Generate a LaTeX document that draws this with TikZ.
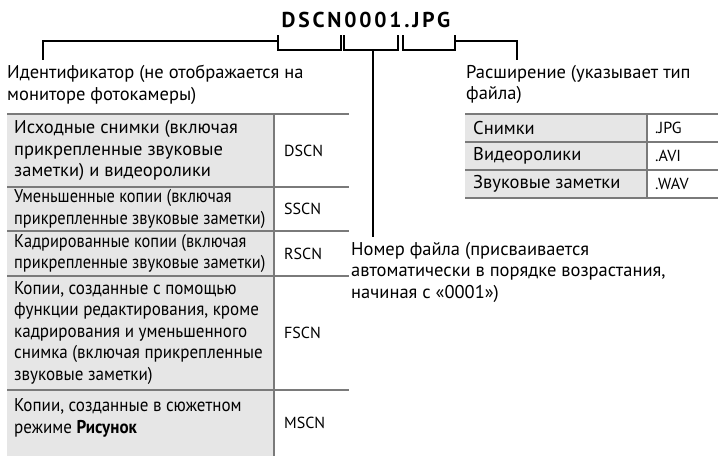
\documentclass[tikz,border=0pt]{standalone}
\usepackage{fontspec}
\setmainfont{PT Sans}
\usetikzlibrary{positioning}
\definecolor{rulegray}{HTML}{7A7A7A}
\definecolor{cellgray}{HTML}{E6E6E6}

\begin{document}
\begin{tikzpicture}[x=1pt, y=-1pt,
    font=\fontsize{18.5}{21.5}\selectfont,
    lbl/.style={anchor=north west, align=left, inner sep=0pt},
    cell/.style={anchor=west, align=left, inner sep=0pt},
    squeezed/.style={cell, font=\fontsize{18.5}{21.5}\selectfont\addfontfeature{FakeStretch=0.92}},
    tight/.style={cell, font=\fontsize{18.5}{21.5}\selectfont\addfontfeature{FakeStretch=0.885}},
    code/.style={cell, font=\fontsize{16}{20}\selectfont},
    wire/.style={line width=1.6pt},
    rule/.style={draw=rulegray, line width=2.6pt},
    divider/.style={draw=rulegray, line width=1.6pt}]
  \useasboundingbox (0,0) rectangle (718,456);

  % file name and brackets
  \node[inner sep=0pt, font=\fontsize{21.5}{24}\selectfont\bfseries\addfontfeature{LetterSpace=13}]
    (fname) at (366,19.5) {DSCN0001.JPG};
  \draw[wire] (278,35) |- (341,50) -- (341,35);
  \draw[wire] (344,35) |- (398,50) -- (398,35);
  \draw[wire] (403,35) |- (455,50) -- (455,35);
  \coordinate (prefix) at (278,41);
  \coordinate (number) at (373,50);
  \coordinate (suffix) at (455,41);

  % labels
  \node[lbl] (idlbl) at (7,65) {Идентификатор (не отображается на\\мониторе фотокамеры)};
  \node[lbl] (extlbl) at (466,65) {Расширение (указывает тип\\файла)};
  \node[lbl] (numlbl) at (351,242) {Номер файла (присваивается\\автоматически в порядке возрастания,\\начиная с «0001»)};
  \draw[wire] (prefix) -| ([xshift=36pt, yshift=5pt]idlbl.north west);
  \draw[wire] (suffix) -| ([xshift=51pt, yshift=5pt]extlbl.north west);
  \draw[wire] (number) -- ([xshift=22pt, yshift=5pt]numlbl.north west);

  % extension table
  \fill[cellgray] (465,114) rectangle (647,198);
  \draw[divider] (647,114) -- (647,198);
  \foreach \y in {114,142,170,198}
    \draw[rule] (465,\y) -- (718,\y);
  \node[cell] (jpgname) at (473,128) {Снимки};
  \node[cell] (aviname) at (473,156) {Видеоролики};
  \node[cell] (wavname) at (473,184) {Звуковые заметки};
  \node[code] (jpg) at (655,128) {.JPG};
  \node[code] (avi) at (655,156) {.AVI};
  \node[code] (wav) at (655,184) {.WAV};

  % identifier table
  \fill[cellgray] (7,114) rectangle (274,456);
  \draw[divider] (274,114) -- (274,456);
  \foreach \y in {114,187,231,276,390}
    \draw[rule] (7,\y) -- (349,\y);
  \node[cell] (orig) at (14,150.5) {Исходные снимки (включая\\прикрепленные звуковые\\заметки) и видеоролики};
  \node[tight] (small) at (14,209) {Уменьшенные копии (включая\\прикрепленные звуковые заметки)};
  \node[tight] (crop) at (14,253.5) {Кадрированные копии (включая\\прикрепленные звуковые заметки)};
  \node[squeezed] (edit) at (14,333) {Копии, созданные с помощью\\функции редактирования, кроме\\кадрирования и уменьшенного\\снимка (включая прикрепленные\\звуковые заметки)};
  \node[squeezed] (scene) at (14,418) {Копии, созданные в сюжетном\\режиме \textbf{Рисунок}};
  \node[code] (dscn) at (284,150.5) {DSCN};
  \node[code] (sscn) at (284,209) {SSCN};
  \node[code] (rscn) at (284,253.5) {RSCN};
  \node[code] (fscn) at (284,333) {FSCN};
  \node[code] (mscn) at (284,423) {MSCN};
\end{tikzpicture}
\end{document}
